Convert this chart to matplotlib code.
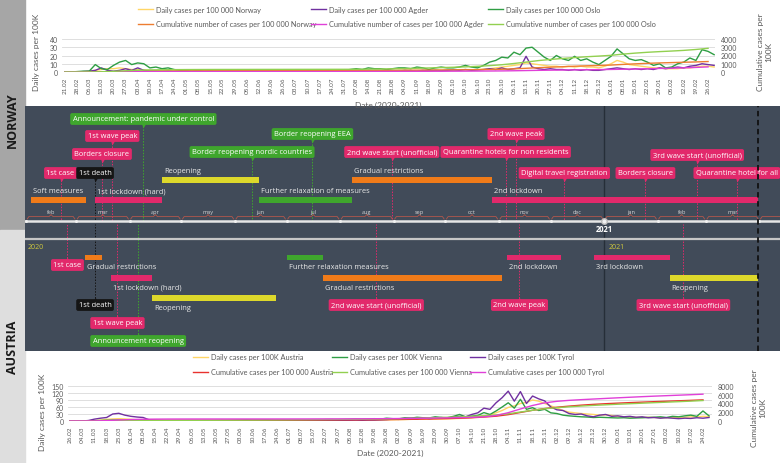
import matplotlib
matplotlib.use("Agg")

import matplotlib.pyplot as plt
import matplotlib.dates as mdates
import pandas as pd

W, H = 780, 464

# ---------------- data: Norway chart ----------------
no_daily_dates = pd.date_range("2020-02-21", periods=108, freq="84h")
oslo_daily = [0, 0, 0.5, 1, 1,
              9, 4, 3, 8, 12, 14, 9, 11, 10, 5, 6, 4, 5, 3, 2,
              1.5, 1, 2, 1, 1.5, 1, 1, 0.5, 1, 1, 1.5, 1, 1, 0.5, 1, 1, 1, 0.5, 1, 1, 1.5, 1, 2, 1.5, 2, 2.5, 2,
              3, 4, 3, 5, 4, 4, 3, 4, 5, 5, 4, 6, 5, 3, 5, 6, 5, 5, 6, 8, 6, 5, 8,
              12, 14, 18, 17, 24, 21, 29, 30, 24, 18, 14, 20, 16, 14, 19, 14, 16, 12, 9, 14,
              19, 28, 22, 16, 14, 15, 12, 8, 10, 5, 6, 10, 12, 17, 14, 27, 25, 21]
agder_daily = [0, 0, 0, 0.5, 1,
               2, 5, 2, 1, 2, 4, 2, 5, 2, 1, 1, 0.5, 1, 0.5, 0.5,
               0.5, 0.3, 0.3, 0.2, 0.3, 0.2, 0.2, 0.3, 0.2, 0.2, 0.3, 0.2, 0.3, 0.2, 0.3, 0.5, 0.3, 0.2, 0.3, 0.5,
               0.4, 0.3, 0.5, 0.8, 0.6, 1, 0.8,
               1, 1.5, 1, 2, 1.5, 1, 2, 1.5, 1, 2, 1.5, 1, 2, 1.5, 2, 1.5, 2, 2.5, 2, 3, 2, 2.5, 3,
               4, 3, 5, 3, 4, 5, 19, 6, 4, 3, 4, 3, 3, 2, 3, 2, 3, 2, 2, 3,
               4, 5, 4, 3, 4, 3, 4, 3, 5, 4, 5, 6, 5, 7, 8, 10, 9, 8]
norway_daily = [0, 0, 0, 0.3, 1,
                2, 3, 4, 4, 5, 4, 3, 3, 2.5, 2, 1.5, 1.5, 1, 1, 0.8,
                0.5, 0.5, 0.4, 0.3, 0.3, 0.2, 0.2, 0.2, 0.2, 0.2, 0.3, 0.2, 0.2, 0.2, 0.2, 0.2, 0.2, 0.3, 0.3, 0.3,
                0.4, 0.5, 0.8, 1, 1, 1.2, 1,
                1.2, 1.5, 1.2, 1.5, 1.3, 1.2, 1.3, 1.5, 1.8, 2, 1.8, 1.6, 1.8, 2, 2.2, 2, 2.2, 2.5, 2.8, 3, 2.8, 3, 3.5,
                4, 5, 6, 7, 8, 9, 11, 10, 9, 8, 7, 7, 6, 7, 6, 7, 6, 6, 5, 7,
                10, 14, 12, 9, 8, 7, 6, 5, 5, 4, 4, 4, 5, 5, 6, 7, 7, 6]

no_week_dates = pd.date_range("2020-02-21", periods=54, freq="7D")
norway_cum = [0, 0, 2, 15, 37, 65, 90, 110, 125, 135, 145, 150, 153, 156, 158, 160, 162, 164, 165, 166,
              168, 170, 172, 176, 182, 190, 198, 205, 214, 222, 232, 245, 256, 268, 282, 300, 330, 380, 450, 520,
              585, 640, 700, 750, 790, 840, 920, 990, 1050, 1100, 1140, 1180, 1220, 1270]
agder_cum = [0, 0, 1, 8, 18, 28, 35, 40, 43, 45, 46, 47, 47, 48, 48, 48, 49, 49, 50, 50,
             51, 52, 53, 55, 58, 62, 66, 70, 75, 80, 86, 92, 98, 105, 112, 120, 132, 150, 175, 200,
             220, 240, 258, 275, 290, 310, 335, 365, 400, 430, 465, 505, 555, 620]
oslo_cum = [0, 0, 2, 30, 80, 150, 210, 250, 270, 285, 295, 300, 305, 308, 310, 312, 314, 316, 318, 320,
            322, 324, 326, 328, 330, 345, 360, 390, 420, 455, 490, 530, 575, 620, 690, 770, 880, 1030, 1200, 1380,
            1520, 1640, 1750, 1850, 1930, 2020, 2170, 2290, 2390, 2470, 2540, 2620, 2730, 2870]

# ---------------- data: Austria chart ----------------
at_daily_dates = pd.date_range("2020-02-26", periods=106, freq="84h")
tyrol_daily = [0, 0, 0, 2, 8, 12, 15, 30, 33, 25, 20, 17, 15, 5, 3, 2,
               1, 1, 0.5, 0.5, 0.5, 0.3, 0.3, 0.3, 0.3, 0.2, 0.2, 0.3, 0.3, 0.5, 0.5, 0.5, 0.8, 1, 1, 1.5,
               1, 1.5, 2, 2, 1.5, 2, 2.5, 3, 2.5, 3, 3.5, 4, 3, 4,
               4, 5, 6, 8, 7, 10, 12, 9, 14, 10, 12, 15, 12, 17, 20, 18, 28, 35, 55, 50,
               78, 100, 128, 85, 126, 75, 107, 95, 86, 60, 48, 45, 32, 28, 30, 22, 18, 25, 28, 20,
               22, 18, 20, 16, 18, 14, 15, 12, 14, 12, 10, 12, 11, 14, 12, 15]
vienna_daily = [0, 0, 0, 0.5, 1, 2, 3, 4, 4, 3, 3, 2.5, 2, 2, 1.5, 1,
                1, 1, 1.5, 1, 1, 1, 1.5, 1, 1.5, 2, 2, 3, 4, 5, 4, 4, 5, 4, 3, 4,
                3, 3, 4, 4, 5, 5, 6, 6, 5, 6, 7, 8, 7, 8,
                10, 8, 12, 10, 9, 14, 12, 16, 14, 13, 18, 15, 14, 20, 28, 18, 21, 24, 36, 28,
                43, 60, 78, 55, 93, 50, 57, 45, 50, 35, 32, 25, 22, 20, 18, 17, 15, 16, 15, 14,
                13, 14, 12, 13, 14, 15, 16, 18, 15, 20, 18, 22, 25, 20, 43, 22]
austria_daily = [0, 0, 0, 0.5, 2, 4, 7, 9, 10, 9, 7, 5, 4, 3, 2, 1.5,
                 1, 1, 0.8, 0.6, 0.5, 0.5, 0.4, 0.4, 0.5, 0.5, 0.6, 0.7, 0.8, 0.8, 1, 1, 1.2, 1.2, 1.3, 1.3,
                 1.2, 1.2, 1.3, 1.5, 1.5, 1.6, 1.8, 2, 2, 2.2, 2.5, 2.8, 3, 3,
                 3.5, 4, 4.5, 5, 5.5, 6, 7, 8, 8, 8.5, 8, 8.5, 9, 10, 11, 12, 14, 17, 22, 26,
                 35, 45, 58, 65, 75, 80, 90, 85, 75, 65, 55, 45, 38, 35, 32, 30, 28, 25, 26, 24,
                 20, 18, 17, 16, 15, 16, 15, 14, 14, 15, 16, 16, 18, 18, 20, 19]

at_week_dates = pd.date_range("2020-02-26", periods=53, freq="7D")
austria_cum = [0, 0.3, 2, 20, 70, 125, 150, 160, 167, 171, 173, 175, 177, 178, 180, 182, 185, 190, 198, 208,
               220, 235, 250, 265, 280, 300, 325, 355, 395, 445, 500, 560, 640, 750, 900, 1100, 1450, 1950, 2450, 2850,
               3150, 3400, 3620, 3800, 3950, 4080, 4200, 4310, 4420, 4520, 4620, 4720, 4830]
vienna_cum = [0, 0, 1, 15, 50, 90, 115, 130, 140, 148, 155, 162, 170, 180, 190, 200, 215, 235, 260, 285,
              310, 335, 360, 385, 410, 440, 480, 530, 600, 680, 760, 850, 950, 1060, 1200, 1380, 1650, 2050, 2450, 2800,
              3050, 3250, 3420, 3570, 3700, 3830, 3950, 4070, 4190, 4300, 4420, 4540, 4680]
tyrol_cum = [0, 0, 5, 90, 230, 340, 400, 430, 445, 452, 456, 458, 460, 461, 462, 463, 464, 466, 468, 471,
             475, 480, 486, 494, 505, 520, 540, 565, 595, 630, 670, 710, 760, 830, 950, 1250, 1900, 2750, 3550, 4150,
             4500, 4720, 4880, 5020, 5160, 5300, 5430, 5560, 5680, 5790, 5900, 6010, 6130]

# ---------------- data: timelines ----------------
no_event_labels = ["1st case", "1st death", "Borders closure", "1st wave peak",
                   "Announcement: pandemic under control", "Border reopening nordic countries",
                   "Border reopening EEA", "2nd wave start (unofficial)", "Quarantine hotels for non residents",
                   "2nd wave peak", "Digital travel registration", "Borders closure",
                   "3rd wave start (unofficial)", "Quarantine hotel for all"]
no_event_dates = ["2020-02-21", "2020-03-12", "2020-03-16", "2020-03-22", "2020-04-09", "2020-06-11",
                  "2020-07-16", "2020-08-31", "2020-11-05", "2020-11-11", "2020-12-09", "2021-01-25",
                  "2021-02-24", "2021-03-19"]
no_event_kind = ["alert", "death", "alert", "alert", "relief", "relief", "relief", "alert", "alert",
                 "alert", "alert", "alert", "alert", "alert"]

no_phase_labels = ["Soft measures", "1st lockdown (hard)", "Reopening", "Further relaxation of measures",
                   "Gradual restrictions", "2nd lockdown"]
no_phase_start = ["2020-02-04", "2020-03-12", "2020-04-20", "2020-06-15", "2020-08-08", "2020-10-28"]
no_phase_end = ["2020-03-07", "2020-04-20", "2020-06-15", "2020-08-08", "2020-10-28", "2021-03-31"]
no_phase_kind = ["gradual", "lockdown", "reopening", "relaxation", "gradual", "lockdown"]

at_event_labels = ["1st case", "1st death", "1st wave peak", "Announcement reopening",
                   "2nd wave start (unofficial)", "2nd wave peak", "3rd wave start (unofficial)"]
at_event_dates = ["2020-02-25", "2020-03-12", "2020-03-25", "2020-04-06", "2020-08-22", "2020-11-13",
                  "2021-02-16"]
at_event_kind = ["alert", "death", "alert", "relief", "alert", "alert", "alert"]

at_phase_labels = ["Gradual restrictions", "1st lockdown (hard)", "Reopening", "Further relaxation measures",
                   "Gradual restrictions", "2nd lockdown", "3rd lockdown", "Reopening"]
at_phase_start = ["2020-03-06", "2020-03-21", "2020-04-14", "2020-07-01", "2020-07-22", "2020-11-06",
                  "2020-12-26", "2021-02-08"]
at_phase_end = ["2020-03-16", "2020-04-14", "2020-06-25", "2020-07-22", "2020-11-03", "2020-12-07",
                "2021-02-08", "2021-03-31"]
at_phase_kind = ["gradual", "lockdown", "reopening", "relaxation", "gradual", "lockdown", "lockdown",
                 "reopening"]

today = "2021-03-31"

# ---------------- styles ----------------
PANEL = "#414b59"
KIND_COLOR = {"alert": "#e2296b", "death": "#151515", "relief": "#3fa62d",
              "gradual": "#f07b19", "lockdown": "#e2296b", "reopening": "#ddd82b", "relaxation": "#3fa62d"}
GREY = "#595959"
CHART_FONT = "Lato"
TL_FONT = "Open Sans"

# lane layout (pixel rows inside the timeline panel)
no_event_rows = [174, 174, 155, 137, 120, 153, 135, 153, 153, 135, 174, 174, 156, 174]
no_phase_rows = [201, 201, 181, 201, 181, 201]
at_event_rows = [266, 306, 324, 342, 306, 306, 306]
at_phase_rows = [258.5, 279, 299, 258.5, 279, 258.5, 258.5, 279]


def rect(x0, y0, x1, y1):
    return [x0 / W, 1 - y1 / H, (x1 - x0) / W, (y1 - y0) / H]


fig = plt.figure(figsize=(W / 100, H / 100), dpi=100)
fig.add_artist(plt.Rectangle((0, 1 - 231 / H), 25 / W, 231 / H, transform=fig.transFigure,
                             color="#a6a6a6", zorder=0))
fig.add_artist(plt.Rectangle((0, 0), 25 / W, 1 - 231 / H, transform=fig.transFigure,
                             color="#dedede", zorder=0))
fig.text(12.5 / W, 1 - 120 / H, "NORWAY", rotation=90, ha="center", va="center", fontsize=9,
         fontweight="bold", family=TL_FONT, color="#1a1a1a")
fig.text(12.5 / W, 1 - 347 / H, "AUSTRIA", rotation=90, ha="center", va="center", fontsize=9,
         fontweight="bold", family=TL_FONT, color="#1a1a1a")


def chart(box, xlim, tick_dates, ymax, ystep, y2max, y2step, daily, cum, legend_cols, legend_top,
          ylab_pos, y2lab_pos, xlab_y):
    ax = fig.add_axes(rect(*box))
    ax.set_xlim(xlim)
    ax.set_ylim(0, ymax)
    ax.set_yticks(range(0, ymax + 1, ystep))
    ax.grid(axis="y", color="#d9d9d9", lw=0.6)
    ax.set_axisbelow(True)
    for s in ax.spines.values():
        s.set_visible(False)
    ax.set_xticks(tick_dates)
    ax.xaxis.set_major_formatter(mdates.DateFormatter("%d.%m"))
    ax.tick_params(axis="x", length=0, rotation=90, labelsize=4.6, labelcolor=GREY, pad=3.5)
    ax.tick_params(axis="y", length=0, labelsize=5, labelcolor=GREY, pad=3)
    for lab in ax.get_xticklabels() + ax.get_yticklabels():
        lab.set_family(CHART_FONT)
    handles = []
    for dates, vals, col, lab in daily:
        h, = ax.plot(dates, vals, color=col, lw=1.0)
        handles.append(h)
    ax2 = ax.twinx()
    ax2.set_ylim(0, y2max)
    ax2.set_yticks(range(0, y2max + 1, y2step))
    for s in ax2.spines.values():
        s.set_visible(False)
    ax2.tick_params(axis="y", length=0, labelsize=5, labelcolor=GREY, pad=4)
    for lab in ax2.get_yticklabels():
        lab.set_family(CHART_FONT)
    handles2 = []
    for dates, vals, col, lab in cum:
        h, = ax2.plot(dates, vals, color=col, lw=1.0)
        handles2.append(h)
    ax2.set_xlim(xlim)
    for i, x in enumerate(legend_cols):
        leg = fig.legend([handles[i], handles2[i]], [daily[i][3], cum[i][3]], loc="upper left",
                         bbox_to_anchor=(x / W, 1 - legend_top / H), frameon=False, borderpad=0,
                         borderaxespad=0, handlelength=2.0, handletextpad=0.4, labelspacing=1.05,
                         prop={"family": CHART_FONT, "size": 5.3})
        for t in leg.get_texts():
            t.set_color(GREY)
    fig.text(ylab_pos[0] / W, 1 - ylab_pos[1] / H, "Daily cases per 100K", rotation=90, ha="center",
             va="center", fontsize=6, color=GREY, family=CHART_FONT)
    fig.text(y2lab_pos[0] / W, 1 - y2lab_pos[1] / H, "Cumulative cases per\n100K", rotation=90,
             ha="center", va="center", fontsize=6, color=GREY, family=CHART_FONT, multialignment="center")
    fig.text((box[0] + box[2]) / 2 / W, 1 - xlab_y / H, "Date (2020-2021)", ha="center", va="center",
             fontsize=6, color=GREY, family=CHART_FONT)
    return ax


def num(d):
    return mdates.date2num(pd.Timestamp(d))


# Norway chart
chart((62, 40, 715, 73),
      (num("2020-02-21") - 1.7, num("2021-02-26") + 4.0), no_week_dates, 40, 10, 4000, 1000,
      [(no_daily_dates, norway_daily, "#ffd666", "Daily cases per 100 000 Norway"),
       (no_daily_dates, agder_daily, "#7030a0", "Daily cases per 100 000 Agder"),
       (no_daily_dates, oslo_daily, "#2f9e44", "Daily cases per 100 000 Oslo")],
      [(no_week_dates, norway_cum, "#ed7d31", "Cumulative number of cases per 100 000 Norway"),
       (no_week_dates, agder_cum, "#e040d8", "Cumulative number of cases per 100 000 Agder"),
       (no_week_dates, oslo_cum, "#92d050", "Cumulative number of cases per 100 000 Oslo")],
      (138, 311, 488), 6.5, (37, 52), (765, 52), 105)

# Austria chart
chart((68, 387, 712, 422),
      (num("2020-02-26") - 1.2, num("2021-02-24") + 5.2), at_week_dates, 150, 30, 8000, 2000,
      [(at_daily_dates, austria_daily, "#ffd666", "Daily cases per 100K Austria"),
       (at_daily_dates, vienna_daily, "#2f9e44", "Daily cases per 100K Vienna"),
       (at_daily_dates, tyrol_daily, "#7030a0", "Daily cases per 100K Tyrol")],
      [(at_week_dates, austria_cum, "#e8322e", "Cumulative cases per 100 000 Austria"),
       (at_week_dates, vienna_cum, "#92d050", "Cumulative cases per 100 000 Vienna"),
       (at_week_dates, tyrol_cum, "#e040d8", "Cumulative cases per 100 000 Tyrol")],
      (193, 332, 470), 354.5, (42, 412), (759, 408), 453)

# ---------------- timeline panel ----------------
PXD = 1 / 1.7255  # days per pixel on the timeline
t0 = num("2020-02-01")
tl = fig.add_axes(rect(25, 107, 780, 352))
tl.set_facecolor(PANEL)
tl.set_xlim(t0 - 0.6, t0 + 437.0)
tl.set_ylim(352, 107)
tl.set_xticks([])
tl.set_yticks([])
for s in tl.spines.values():
    s.set_visible(False)

AXIS_Y = 222
tl.axhline(AXIS_Y, color="#e6e6e6", lw=1.8, zorder=3)
tl.axhline(240.5, color="#c6c6c6", lw=1.6, zorder=3)
tl.axvline(num("2021-01-01"), color="#262e38", lw=1.0, zorder=1)
tl.axvline(num(today), color="#111111", lw=1.3, ls=(0, (3, 2)), zorder=6)

months = pd.date_range("2020-02-01", "2021-04-01", freq="MS")
for i, m in enumerate(months):
    a = num(m)
    b = num(m + pd.offsets.MonthBegin(1))
    mid = (a + b) / 2
    k = 2 * PXD
    tl.plot([a + k * 0.6, a + k * 1.4, mid - k, mid, mid + k, b - k * 1.4, b - k * 0.6],
            [220, 217.6, 217.6, 215.6, 217.6, 217.6, 220], color="#b4574c", lw=0.6, zorder=2)
    if m < pd.Timestamp("2021-04-01"):
        tl.text(mid, 212.8, m.strftime("%b").lower(), ha="center", va="center", fontsize=4,
                color="#d6d6d6", family=TL_FONT)
    big = m == pd.Timestamp("2021-01-01")
    tl.plot(a, AXIS_Y, "o", ms=4 if big else 2.2, color="#f0f0f0", mec="#bbbbbb" if big else "none",
            zorder=4)
tl.text(num("2021-01-01"), 229.5, "2021", ha="center", va="center", fontsize=5.5, fontweight="bold",
        color="white", family=TL_FONT)
tl.text(t0 + 1.2, 248, "2020", ha="left", va="center", fontsize=5, color="#cfc93e", family=TL_FONT)
tl.text(num("2021-01-01") + 2.5, 248, "2021", ha="left", va="center", fontsize=5, color="#cfc93e",
        family=TL_FONT)

FS = 5.4
box_kw = dict(boxstyle="round,pad=0.32,rounding_size=0.25", ec="none")


def events(labels, dates, kinds, rows, below):
    for lab, d, kind, y in zip(labels, dates, kinds, rows):
        x = num(d)
        col = KIND_COLOR[kind]
        tl.text(x, y, lab, ha="center", va="center", fontsize=FS, color="white", family=TL_FONT,
                bbox=dict(fc=col, **box_kw), zorder=5)
        if below:
            tl.plot(x, y + 6.3, marker="v", ms=3.6, color=col, mec="none", zorder=5)
            tl.plot([x, x], [y + 7, AXIS_Y], ls=(0, (1.5, 1.5)), color=col, lw=0.7, zorder=1)
        else:
            tl.plot(x, y - 6.3, marker="^", ms=3.6, color=col, mec="none", zorder=5)
            tl.plot([x, x], [y - 7, 225], ls=(0, (1.5, 1.5)), color=col, lw=0.7, zorder=1)


def phases(labels, starts, ends, kinds, rows, text_above):
    for lab, a, b, kind, y in zip(labels, starts, ends, kinds, rows):
        xa, xb = num(a), num(b)
        tl.barh(y, xb - xa, left=xa, height=5.5, color=KIND_COLOR[kind], zorder=4)
        ty = y - 9 if text_above else y + 9.5
        tl.text(xa + 2 * PXD, ty, lab, ha="left", va="center", fontsize=FS, color="#e8e8e8",
                family=TL_FONT, zorder=5)


events(no_event_labels, no_event_dates, no_event_kind, no_event_rows, True)
phases(no_phase_labels, no_phase_start, no_phase_end, no_phase_kind, no_phase_rows, True)
events(at_event_labels, at_event_dates, at_event_kind, at_event_rows, False)
phases(at_phase_labels, at_phase_start, at_phase_end, at_phase_kind, at_phase_rows, False)

fig.savefig("out.png", dpi=100)
